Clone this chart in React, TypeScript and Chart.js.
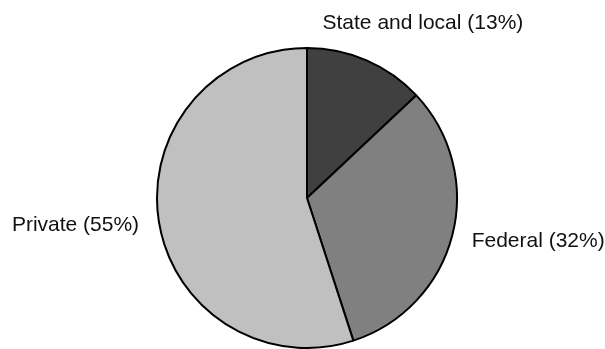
import React, { useEffect, useRef } from "react";
import { Chart, registerables } from "chart.js";

Chart.register(...registerables);

const categories = ["State and local", "Federal", "Private"];
const shares = [13, 32, 55];
const sliceColors = ["#404040", "#808080", "#c0c0c0"];

const labelPlugin = {
  id: "outsideLabels",
  afterDatasetsDraw(chart: any, _args: any, opts: any) {
    const ctx = chart.ctx;
    const meta = chart.getDatasetMeta(0);
    const labels = chart.data.labels as string[];
    const values = chart.data.datasets[0].data as number[];
    ctx.save();
    ctx.fillStyle = opts.color || "#000";
    ctx.font = opts.font;
    ctx.textBaseline = "middle";
    meta.data.forEach((arc: any, i: number) => {
      const { x, y, startAngle, endAngle, outerRadius } = arc.getProps(
        ["x", "y", "startAngle", "endAngle", "outerRadius"],
        true
      );
      const mid = (startAngle + endAngle) / 2;
      const r = outerRadius + opts.pad;
      const nudge = (opts.nudges && opts.nudges[i]) || [0, 0];
      const ax = x + r * Math.cos(mid) + nudge[0];
      const ay = y + r * Math.sin(mid) + nudge[1];
      ctx.textAlign = Math.cos(mid) >= 0 ? "left" : "right";
      ctx.fillText(`${labels[i]} (${values[i]}%)`, ax, ay);
    });
    ctx.restore();
  },
};

export default function App() {
  const ref = useRef<HTMLCanvasElement>(null);
  useEffect(() => {
    document.body.style.margin = "0";
    const chart = new Chart(ref.current!, {
      type: "pie",
      data: {
        labels: categories,
        datasets: [
          {
            data: shares,
            backgroundColor: sliceColors,
            borderColor: "#000",
            borderWidth: 2,
            hoverOffset: 0,
          },
        ],
      },
      options: {
        animation: false,
        responsive: false,
        events: [],
        layout: { padding: { top: 47, left: 9, right: 0, bottom: 0 } },
        plugins: {
          legend: { display: false },
          tooltip: { enabled: false },
          outsideLabels: {
            font: '21px "Liberation Sans", Arial, Helvetica, sans-serif',
            color: "#111",
            pad: 20,
            nudges: [[-52, -19], [0, 1], [0, 1]],
          },
        } as any,
      },
      plugins: [labelPlugin],
    });
    return () => chart.destroy();
  }, []);
  return (
    <div style={{ width: 605, height: 349 }}>
      <canvas ref={ref} width={605} height={349} style={{ display: "block" }} />
    </div>
  );
}
